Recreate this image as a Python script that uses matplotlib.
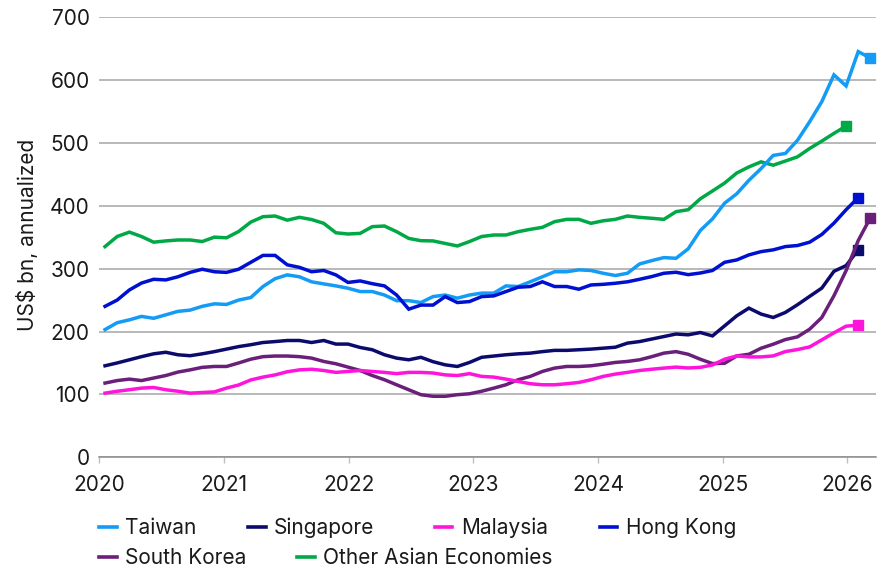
import matplotlib
matplotlib.use("Agg")
import matplotlib.pyplot as plt
import numpy as np
from matplotlib.lines import Line2D

plt.rcParams['font.family'] = ['Inter', 'DejaVu Sans']

# x positions: successive observation index (roughly 10.3 per year), start just after 2020
x_start = 2020.046
x_step = 0.09743

taiwan = [203, 214, 218.5, 224, 221, 226.5, 232, 234, 240, 244, 243, 250, 254, 271.5, 284, 290,
          287, 279, 275.7, 272.5, 268.8, 263.5, 263.5, 258, 249, 249, 246, 255.5, 258, 253, 258, 261,
          261, 272.5, 271.5, 279, 287, 295, 295, 298, 297, 292.6, 289, 292.6, 307.4, 312.7, 317.5, 316.4,
          331.4, 360.6, 379, 404, 419, 440.4, 459, 480, 483, 504, 533.5, 565.4, 608, 590.4, 645, 634.6]
singapore = [145.5, 150, 155, 160, 164.5, 167, 163, 161.5, 164.5, 168, 172, 176, 179, 182.5, 184, 185.7,
             185.7, 182.5, 185.7, 180, 180, 174.6, 171, 163, 157.7, 155, 159, 152, 147, 144.4, 150.8, 159,
             161, 163, 164.5, 165.6, 168, 170, 170, 171, 172, 173.5, 175, 181.5, 184, 188, 192, 196,
             194.7, 198.4, 193, 209, 225, 237.2, 227.7, 222.3, 230.3, 242.6, 255.9, 269, 295.7, 304.8, 329.8]
malaysia = [102, 105, 107.4, 110, 111, 107.4, 105, 102, 103, 104, 110, 115, 123, 127.5, 131, 136,
            139, 140, 138, 135, 136.5, 138, 136.5, 135, 133, 135, 135, 134, 131, 130, 133, 128.6,
            127.5, 124.3, 120.6, 117, 115.3, 115.3, 117, 119, 123.3, 128.6, 132.3, 135, 138, 140, 141.8, 143.4,
            142, 143, 146.8, 155.9, 161.2, 159.6, 159.6, 161.2, 168.1, 171.3, 175.5, 186.7, 197.9, 208.5, 210]
hong_kong = [240, 250, 266, 277, 283, 282, 287, 294, 299, 295, 294, 299, 310, 321, 321, 306,
             302, 295, 297, 290, 278, 280.4, 276, 272.5, 258, 235.5, 242, 242, 255.5, 246, 247.6, 255.5,
             256.6, 263.5, 270.4, 271.5, 279, 271.5, 271.5, 267.2, 274, 275, 276.7, 279, 283, 287.3, 292.6, 294.2,
             290.4, 293, 297, 310, 313.8, 321.8, 327, 329.8, 335, 336.7, 342, 354.3, 372.3, 393.6, 412.8]
south_korea = [118, 122, 124.3, 122, 126, 130, 135.5, 139, 143, 144.4, 144.4, 150, 156, 160, 161, 161,
               160, 157.7, 152.4, 148.7, 143.4, 138, 130, 123.3, 115.3, 107.4, 99.5, 97, 97, 99.5, 101, 105,
               110, 115.3, 123.3, 128.6, 136.5, 141.8, 144.4, 144.4, 145.5, 148, 150.8, 152.4, 155, 160, 165.6, 168,
               163.8, 155.9, 149, 149.5, 161.2, 163.8, 173.4, 179.8, 187.2, 191.5, 203.7, 222.3, 256.9, 296.8, 344.7, 380.9]
other_asia = [335, 351, 358, 351, 342, 344, 345.5, 345.5, 343, 350, 349, 359, 374, 382.5, 383.6, 377,
              381.5, 378, 372, 357, 355, 356, 366.7, 367.7, 358.7, 348, 344.4, 344, 340, 336, 343, 351,
              353.4, 353.4, 358.7, 362.4, 365.6, 374.6, 378.3, 378.3, 372, 376, 378.3, 383.6, 381.5, 380, 378.3, 390.5,
              393.6, 411, 423.4, 436, 452, 461.7, 469.7, 464.4, 471, 477.7, 491, 502.7, 515, 526.6]

series_names = ["Taiwan", "Singapore", "Malaysia", "Hong Kong", "South Korea", "Other Asian Economies"]
series_vals = [taiwan, singapore, malaysia, hong_kong, south_korea, other_asia]
colors = ["#139BF5", "#0B0B6E", "#FF14DC", "#0010D0", "#6A1F7A", "#00A846"]
draw_order = [5, 0, 3, 1, 4, 2]

year_ticks = [2020, 2021, 2022, 2023, 2024, 2025, 2026]
y_ticks = [0, 100, 200, 300, 400, 500, 600, 700]

FS = 15
TXT = "#1A1A1A"
W, H = 892, 569
fig = plt.figure(figsize=(W / 100, H / 100), dpi=100)
ax = fig.add_axes([99.3 / W, 1 - 457.3 / H, (876 - 99.3) / W, (457.3 - 17) / H])

for k in draw_order:
    vals = series_vals[k]
    xs = x_start + x_step * np.arange(len(vals))
    ax.plot(xs, vals, color=colors[k], lw=2.5, solid_joinstyle='miter',
            marker='s', markevery=[len(vals) - 1], markersize=7.8, zorder=3)

ax.set_xlim(2020, 2026.229)
ax.set_ylim(0, 700)
ax.set_yticks(y_ticks)
ax.set_xticks(year_ticks)
ax.set_xticklabels([str(y) for y in year_ticks])
ax.yaxis.grid(True, color="#A6A6A6", lw=1.1)
ax.set_axisbelow(True)
for s in ["left", "right", "top"]:
    ax.spines[s].set_visible(False)
ax.spines["bottom"].set_color("#8C8C8C")
ax.spines["bottom"].set_linewidth(1.1)
ax.tick_params(axis='y', length=0, pad=7, labelsize=FS, labelcolor=TXT)
ax.tick_params(axis='x', length=4, width=1, color="#BFBFBF", pad=9, labelsize=FS, labelcolor=TXT)

fig.text(27 / W, 1 - 235 / H, "US$ bn, annualized", rotation=90, ha='center', va='center',
         fontsize=FS, color=TXT)

# legend entries placed in flowing rows like the original
entry_pos = {0: (99.3, 528), 1: (248.3, 528), 2: (435, 528), 3: (600, 528),
             4: (99.3, 558), 5: (297.3, 558)}
for k, (px, py) in entry_pos.items():
    leg = fig.legend([Line2D([0], [0], color=colors[k], lw=2.6)], [series_names[k]],
                     loc='center left', bbox_to_anchor=(px / W, 1 - py / H), frameon=False,
                     fontsize=FS, handlelength=0.835, handletextpad=0.4,
                     borderpad=0, borderaxespad=0)
    for t in leg.get_texts():
        t.set_color(TXT)

fig.savefig("out.png", dpi=100)
